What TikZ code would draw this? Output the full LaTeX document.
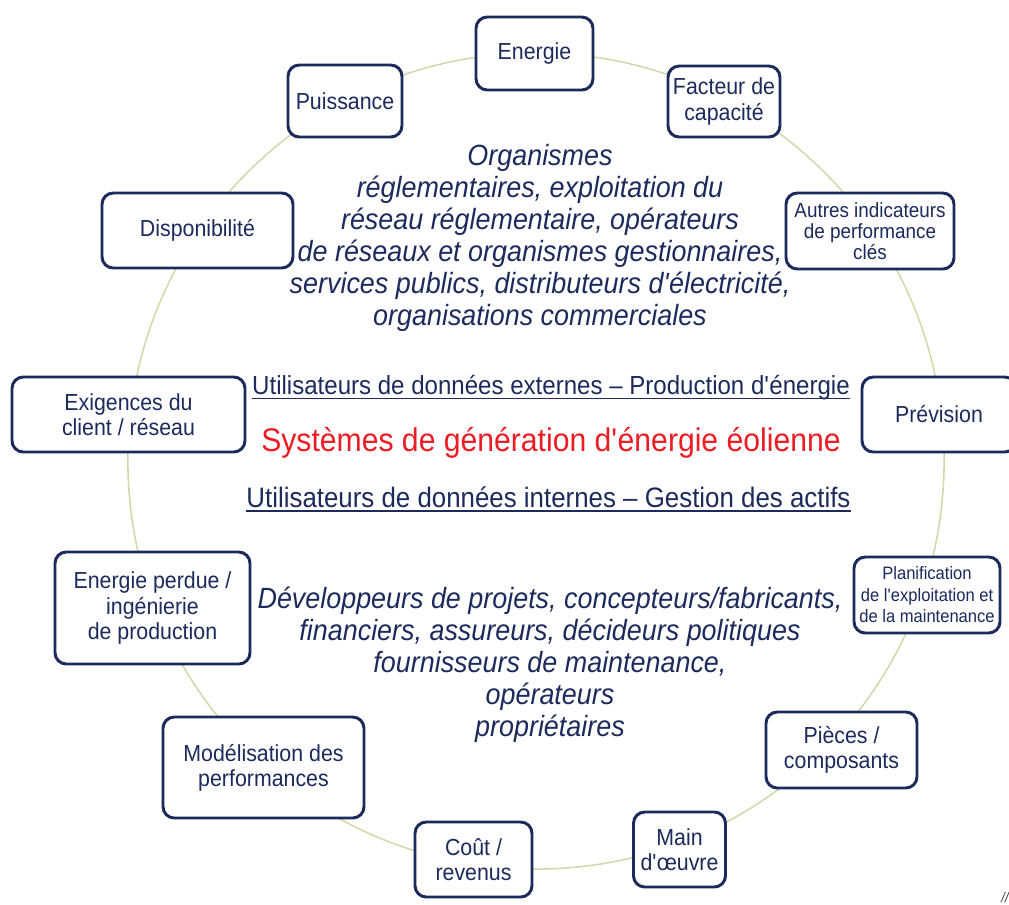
\documentclass[tikz,border=0pt]{standalone}
\usepackage{fontspec}
\setmainfont[FakeStretch=0.92]{Liberation Sans}
\usepackage{xcolor}
\definecolor{navy}{HTML}{1C2A5C}
\definecolor{ringcol}{HTML}{D3D8AA}
\definecolor{titlered}{HTML}{EC1C24}
\usetikzlibrary{positioning}
\newcommand{\ap}{\textquotesingle}

\begin{document}
\begin{tikzpicture}[x=0.025cm,y=-0.025cm,
  box/.style 2 args={draw=navy,line width=2.1pt,rounded corners=8pt,fill=white,text=navy,
    align=center,inner sep=0pt,minimum width=#1*0.025cm,minimum height=#2*0.025cm,
    font=\fontsize{16.5}{17.8}\selectfont},
  group/.style={text=navy,align=center,inner sep=0pt,font=\itshape\fontsize{20.8}{22.8}\selectfont},
  users/.style={text=navy,inner sep=0pt},
  uline/.style={draw=navy,line width=1.1pt}]
\useasboundingbox (0,0) rectangle (1009,904);
% ring
\coordinate (hub) at (536,461);
\draw[ringcol,line width=1.1pt](hub) circle [radius=10.2cm];
% boxes round the ring
\node[box={117}{73}] (energie) at (534.5,53.5) {Energie};
\node[box={112}{71}] (facteur) at (724,101.5) {Facteur de\\capacité};
\node[box={168}{76},font=\fontsize{14.6}{15}\selectfont] (autres) at (870,231) {Autres indicateurs\\de performance\\clés};
\node[box={154}{75}] (prevision) at (939,414.5) {Prévision};
\node[box={146}{76},font=\fontsize{12.8}{15.3}\selectfont] (planif) at (927,595) {Planification\\de l\ap exploitation et\\de la maintenance};
\node[box={151}{76}] (pieces) at (841.5,750) {Pièces /\\composants};
\node[box={92}{75}] (main) at (679.5,849.5) {Main\\d\ap œuvre};
\node[box={117}{75}] (cout) at (473.5,859.5) {Coût /\\revenus};
\node[box={201}{101}] (modelisation) at (263.5,767.5) {Modélisation des\\performances};
\node[box={195}{112}] (perdue) at (152.5,608) {Energie perdue /\\ingénierie\\de production};
\node[box={233}{75}] (exigences) at (128.5,414.5) {Exigences du\\client / réseau};
\node[box={191}{75}] (dispo) at (197.5,230.5) {Disponibilité};
\node[box={114}{72}] (puissance) at (345,101) {Puissance};
% centre texts
\node[group] (externes) at (540,238) {Organismes\\réglementaires, exploitation du\\réseau réglementaire, opérateurs\\de réseaux et organismes gestionnaires,\\services publics, distributeurs d\ap électricité,\\organisations commerciales};
\node[users,font=\fontsize{18.6}{22}\selectfont] (prod) at (551,388) {Utilisateurs de données externes – Production d\ap énergie};
\node[text=titlered,inner sep=0pt,font=\fontsize{23.3}{26}\selectfont] (titre) at (551,443) {Systèmes de génération d\ap énergie éolienne};
\node[users,font=\fontsize{20}{22}\selectfont] (actifs) at (548.5,497) {Utilisateurs de données internes – Gestion des actifs};
\node[group] (internes) at (550,665) {Développeurs de projets, concepteurs/fabricants,\\financiers, assureurs, décideurs politiques\\fournisseurs de maintenance,\\opérateurs\\propriétaires};
\draw[uline]([yshift=-2.6pt]prod.base west)--([yshift=-2.6pt]prod.base east);
\draw[uline]([yshift=-2.6pt]actifs.base west)--([yshift=-2.6pt]actifs.base east);
\node[text=black!75,font=\itshape\fontsize{10}{10}\selectfont] (marque) at (1005,897) {//};
\end{tikzpicture}
\end{document}
